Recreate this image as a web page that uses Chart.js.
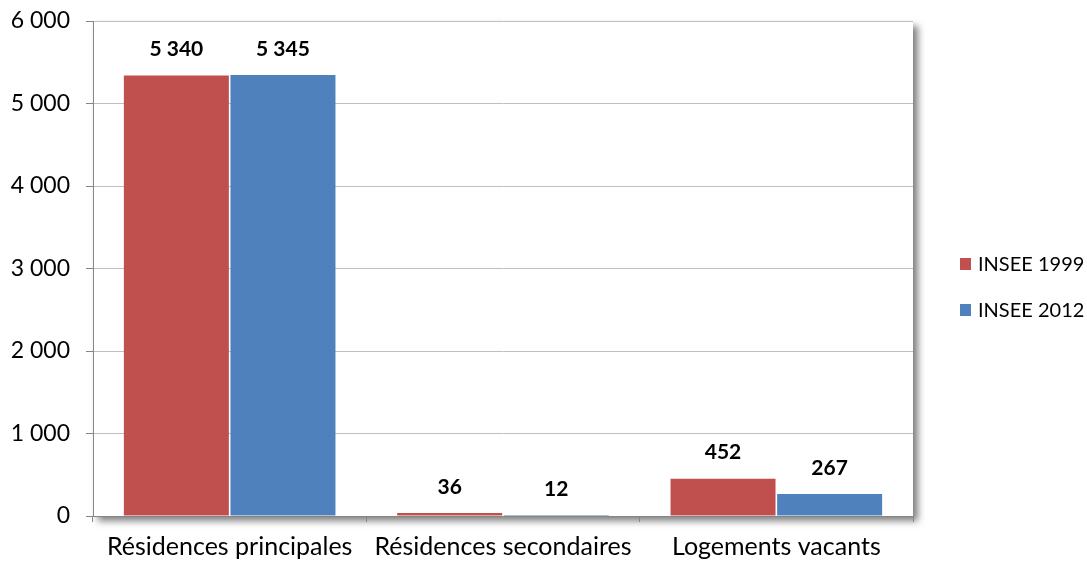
<!DOCTYPE html>
<html lang="fr">
<head>
<meta charset="utf-8">
<script src="https://cdn.jsdelivr.net/npm/chart.js@4/dist/chart.umd.min.js"></script>
<style>
  html, body { margin: 0; padding: 0; background: #ffffff; }
  #wrap { width: 1087px; height: 562px; position: relative; }
</style>
</head>
<body>
<div id="wrap"><canvas id="c" width="1087" height="562"></canvas></div>
<script>
// Logements par catégorie (INSEE)
const categories = ['Résidences principales', 'Résidences secondaires', 'Logements vacants'];
const insee1999 = [5340, 36, 452];
const insee2012 = [5345, 12, 267];
const seriesNames = ['INSEE 1999', 'INSEE 2012'];
const seriesColors = ['#C0504D', '#4F81BD'];
const yTicks = [0, 1000, 2000, 3000, 4000, 5000, 6000];

const FONT = 'Lato, "Open Sans", sans-serif';

function fmt(v) {
  return String(v).replace(/\B(?=(\d{3})+(?!\d))/g, ' ');
}

// Drop shadow behind the plot area
const plotShadow = {
  id: 'plotShadow',
  beforeDraw(chart) {
    const { ctx, chartArea: a } = chart;
    ctx.save();
    ctx.shadowColor = 'rgba(0,0,0,0.5)';
    ctx.shadowBlur = 7;
    ctx.shadowOffsetX = 5;
    ctx.shadowOffsetY = 5;
    ctx.fillStyle = '#ffffff';
    ctx.fillRect(a.left, a.top, a.right - a.left, a.bottom - a.top);
    ctx.restore();
  }
};

// Value labels above each bar
const valueLabels = {
  id: 'valueLabels',
  afterDatasetsDraw(chart) {
    const { ctx } = chart;
    ctx.save();
    ctx.font = 'bold 21px ' + FONT;
    ctx.fillStyle = '#000000';
    ctx.textAlign = 'center';
    ctx.textBaseline = 'middle';
    chart.data.datasets.forEach((ds, i) => {
      chart.getDatasetMeta(i).data.forEach((bar, j) => {
        ctx.fillText(fmt(ds.data[j]), bar.x, bar.y - 26);
      });
    });
    ctx.restore();
  }
};

// Legend on the right
const sideLegend = {
  id: 'sideLegend',
  afterDraw(chart) {
    const { ctx } = chart;
    ctx.save();
    ctx.font = '20px ' + FONT;
    ctx.textBaseline = 'middle';
    ctx.textAlign = 'left';
    chart.data.datasets.forEach((ds, i) => {
      const y = 264 + i * 46;
      ctx.fillStyle = ds.backgroundColor;
      ctx.fillRect(960, y - 6, 11, 12);
      ctx.fillStyle = '#000000';
      ctx.fillText(ds.label, 978, y + 1);
    });
    ctx.restore();
  }
};

new Chart(document.getElementById('c'), {
  type: 'bar',
  data: {
    labels: categories,
    datasets: [
      { label: seriesNames[0], data: insee1999, backgroundColor: seriesColors[0] },
      { label: seriesNames[1], data: insee2012, backgroundColor: seriesColors[1] }
    ]
  },
  options: {
    responsive: false,
    animation: false,
    devicePixelRatio: 1,
    layout: { padding: { top: 21, right: 174, left: 0, bottom: 0 } },
    categoryPercentage: 0.78,
    barPercentage: 0.985,
    plugins: {
      legend: { display: false },
      tooltip: { enabled: false }
    },
    scales: {
      x: {
        offset: true,
        afterFit(scale) {
          scale.height = 46;
          scale.paddingLeft = 0;
          scale.paddingRight = 0;
        },
        grid: {
          offset: true,
          drawOnChartArea: false,
          drawTicks: true,
          tickLength: 6,
          tickColor: '#868686'
        },
        border: { color: '#868686', width: 1 },
        ticks: {
          color: '#000000',
          font: { family: FONT, size: 25 },
          padding: 10,
          maxRotation: 0,
          autoSkip: false
        }
      },
      y: {
        min: 0,
        max: 6000,
        afterFit(scale) {
          scale.width = 93;
          scale.paddingTop = 0;
          scale.paddingBottom = 0;
        },
        afterBuildTicks(scale) { scale.ticks = yTicks.map(v => ({ value: v })); },
        grid: {
          color: '#BFBFBF',
          lineWidth: 1,
          drawTicks: true,
          tickLength: 7,
          tickColor: '#868686'
        },
        border: { color: '#868686', width: 1 },
        ticks: {
          color: '#000000',
          font: { family: FONT, size: 23 },
          padding: 16,
          callback: v => fmt(v)
        }
      }
    }
  },
  plugins: [plotShadow, valueLabels, sideLegend]
});
</script>
</body>
</html>
